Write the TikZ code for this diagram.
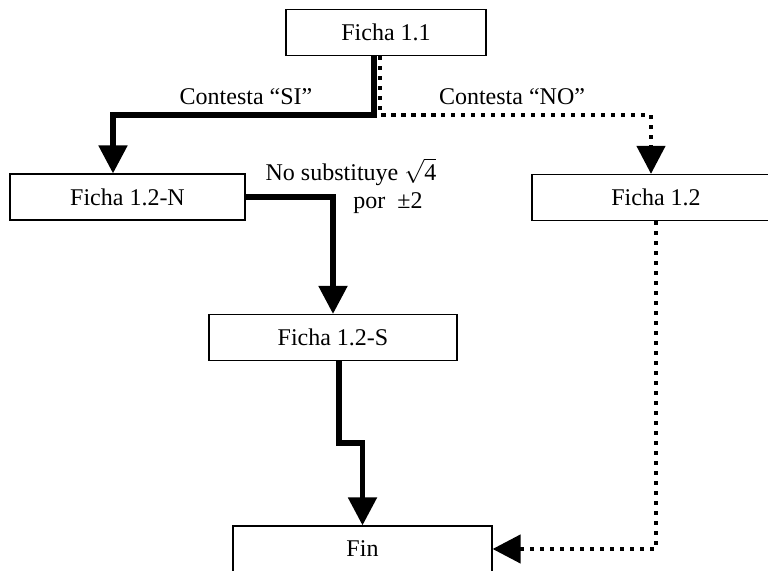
\documentclass[tikz,border=0pt]{standalone}
\usepackage{fontspec}
\setmainfont{Liberation Serif}
\usepackage{tikz}
\usetikzlibrary{arrows.meta,positioning,calc}

\begin{document}
\begin{tikzpicture}[x=0.5pt,y=-0.5pt,
  ficha/.style={draw,line width=0.6pt,minimum width=#1,minimum height=23pt,inner sep=0pt,font=\fontsize{12}{14}\selectfont},
  si/.style={line width=2.6pt,-{Triangle[length=14pt,width=14pt]}},
  no/.style={line width=2.2pt,dash pattern=on 2.2pt off 2.8pt,-{Triangle[length=14pt,width=14pt]}},
  etiq/.style={inner sep=0pt,font=\fontsize{12}{14}\selectfont}]
%Bildgroesse wie Vorlage (768 x 571), eine Einheit = ein Pixel
\useasboundingbox (0,0) rectangle (768,571);
\clip (0,0) rectangle (768,571);
  \node[ficha=100pt] (f11) at (386,32.5) {Ficha 1.1};
  \node[ficha=117.5pt] (f12N) at (127.5,197) {Ficha 1.2-N};
  \node[ficha=124pt] (f12) at (656,197.5) {Ficha 1.2};
  \node[ficha=124pt] (f12S) at (333,337.5) {Ficha 1.2-S};
  \node[ficha=129.5pt] (fin) at (362.5,549) {Fin};
  \coordinate (kSI) at (113,115);
  \coordinate (kNO) at (651,115);
%Beschriftungen
  \node[etiq] (lSI) at (246,97) {Contesta ``SI''};
  \node[etiq] (lNO) at (512,97) {Contesta ``NO''};
  \node[etiq] (lsub) at (351,172) {No substituye $\sqrt{\mbox{4}}$};
  \node[etiq] (lpor) at (388,203) {por\ \ ±2};
%Pfeile
\draw[si] ([xshift=-6pt]f11.south) |- (kSI) -- (f12N.north -| kSI);
\draw[no] ([xshift=-3pt]f11.south) |- (kNO) -- (f12.north -| kNO);
\draw[si] (f12N.east) -| (f12S.north);
\draw[si] ([xshift=3pt]f12S.south) -- ++(0,82) -| (fin.north);
\draw[no] (f12.south) |- (fin.east);
\end{tikzpicture}
\end{document}
